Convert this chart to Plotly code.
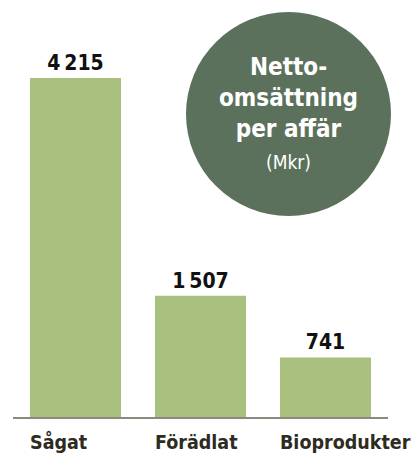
import plotly.graph_objects as go

categories = ["Sågat", "Förädlat", "Bioprodukter"]
values = [4215, 1507, 741]
value_labels = [f"{v:,}".replace(",", "\u2009") for v in values]
badge_title = "Netto-<br>omsättning<br>per affär"
badge_unit = "(Mkr)"

FONT = "DejaVu Sans Condensed, Liberation Sans Narrow, sans-serif"
OFF = 8  # default page body margin
W, H = 419 - OFF, 454 - OFF
L, R, T, B = 13 - OFF, 31, 20 - OFF, 37
PW, PH = W - L - R, H - T - B
BARGAP = 0.272


def px_x(p):
    return (p - OFF - L) / PW


def px_y(p):
    return (H + OFF - B - p) / PH


fig = go.Figure(
    go.Bar(
        x=categories,
        y=values,
        text=value_labels,
        textposition="outside",
        cliponaxis=False,
        textfont=dict(family=FONT, size=21, color="#111111", weight="bold"),
        marker=dict(color="#a9c07e", line=dict(width=0)),
        hoverinfo="skip",
    )
)

annotations = [
    dict(
        xref="x",
        yref="paper",
        x=i - (1 - BARGAP) / 2,
        y=px_y(442),
        xanchor="left",
        xshift=-2,
        yanchor="middle",
        text=cat,
        showarrow=False,
        font=dict(family=FONT, size=19.5, color="#2e2b1f", weight="bold"),
    )
    for i, cat in enumerate(categories)
]

annotations += [
    dict(
        xref="paper",
        yref="paper",
        x=px_x(288.5),
        y=px_y(98),
        xanchor="center",
        yanchor="middle",
        text=badge_title,
        showarrow=False,
        font=dict(family=FONT, size=24, color="white", weight="bold"),
        align="center",
    ),
    dict(
        xref="paper",
        yref="paper",
        x=px_x(288.5),
        y=px_y(162),
        xanchor="center",
        yanchor="middle",
        text=badge_unit,
        showarrow=False,
        font=dict(family=FONT, size=19, color="white"),
        align="center",
    ),
]

fig.update_layout(
    width=W,
    height=H,
    margin=dict(l=L, r=R, t=T, b=B, pad=0),
    paper_bgcolor="white",
    plot_bgcolor="white",
    bargap=BARGAP,
    showlegend=False,
    xaxis=dict(
        range=[-0.5, 2.5],
        automargin=False,
        showgrid=False,
        showline=True,
        linecolor="#8a8a80",
        linewidth=2,
        ticks="",
        showticklabels=False,
        fixedrange=True,
    ),
    yaxis=dict(
        range=[0, PH * 4215 / 339],
        visible=False,
        automargin=False,
        fixedrange=True,
    ),
    shapes=[
        dict(
            type="circle",
            xref="paper",
            yref="paper",
            x0=px_x(186),
            x1=px_x(391),
            y0=px_y(216),
            y1=px_y(12),
            fillcolor="#5c715c",
            line=dict(width=0),
            layer="above",
        )
    ],
    annotations=annotations,
)

fig.write_html("out.html")
